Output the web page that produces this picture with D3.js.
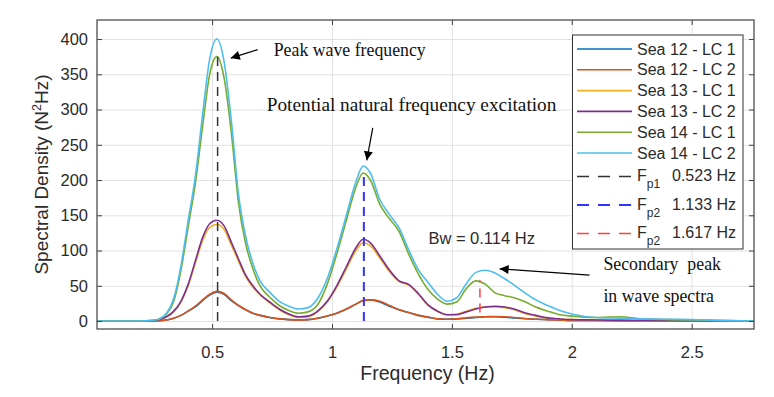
<!DOCTYPE html>
<html><head><meta charset="utf-8">
<script src="https://cdn.jsdelivr.net/npm/d3@7"></script>
<style>
body{margin:0;background:#fff;}
svg{display:block;}
text{font-family:"Liberation Sans",Arial,Helvetica,sans-serif;}
.serif{font-family:"Liberation Serif","Times New Roman",serif;}
</style>
</head><body>
<svg id="c" width="774" height="397"></svg>
<script>
// ---------------- data ----------------
const freq = [0.02,0.10,0.20,0.25,0.28,0.31,0.34,0.37,0.40,0.43,0.46,0.49,0.52,0.55,0.58,0.61,0.64,0.67,0.70,
  0.74,0.78,0.82,0.86,0.90,0.94,0.98,1.02,1.06,1.10,1.13,
  1.16,1.20,1.24,1.28,1.32,1.36,1.40,1.44,1.48,1.52,1.56,1.60,1.64,1.68,1.72,1.76,1.80,
  1.85,1.90,1.95,2.00,2.10,2.20,2.30,2.40,2.50,2.60,2.76];

const sea12lc1 = [0,0,0,0,0.5,1.5,4,8,14,20,29,37,41,38,29,22,16,11,8,
  5,3,2,1.5,2,4,7,11,17,24,29,
  30,27,21,16,12,8,5.5,3,2.5,3,4,5,6,6,5.5,4.5,3.5,
  2.5,2,1.5,1,0.8,0.6,0.5,0.3,0.2,0,0];
const sea12lc2 = [0,0,0,0,0.5,1.5,4,8,14,21,30,38,42,39,30,22,16,11,8,
  5,3,2,1.5,2,4,7,11,17,24,29,
  30,28,22,16,12,8,5.5,3,2.5,3,4.5,5.5,6,6.5,6,5,3.5,
  2.5,2,1.5,1,0.8,0.6,0.5,0.3,0.2,0,0];
const sea13lc1 = [0,0,0,0.5,2,6,13,27,50,82,114,133,137,130,108,85,63,48,37,
  26,16,9,5,6,13,27,48,74,100,111,
  107,89,70,56,51,38,23,14,9,10,14,18,20,20,19,16,11,
  7,4,2.5,2,1.5,1,0.8,0.5,0.3,0,0];
const sea13lc2 = [0,0,0,0.5,2,6,14,28,52,85,118,138,143,135,112,88,65,50,38,
  27,17,10,6,7,14,28,50,77,104,116,
  111,92,72,57,52,39,23,14,9,9,13,17,20,21,20,17,12,
  8,4.5,3,2,1.5,1,0.8,0.5,0.3,0,0];
const sea14lc1 = [0,0,0,1,3,10,28,72,133,195,275,350,375,345,268,168,110,74,50,
  34,22,15,11,13,23,52,95,143,190,210,
  200,165,145,127,95,67,45,31,24,27,46,57,52,40,36,33,28,
  20,14,9,7,5,6,3,2,1.5,1,0];
const sea14lc2 = [0,0,0,1,3,11,32,78,142,205,292,372,400,368,285,180,120,82,57,
  41,28,21,17,19,32,60,102,150,198,220,
  210,172,151,132,101,73,55,38,28,33,53,69,72,68,60,51,41,
  30,22,15,10,5,4,3,2.5,2,1,0];

const seriesNames = ["Sea 12 - LC 1","Sea 12 - LC 2","Sea 13 - LC 1","Sea 13 - LC 2","Sea 14 - LC 1","Sea 14 - LC 2"];
const seriesValues = [sea12lc1, sea12lc2, sea13lc1, sea13lc2, sea14lc1, sea14lc2];
const seriesColors = ["#0072BD","#D95319","#EDB120","#7E2F8E","#77AC30","#4DBEEE"];

// reference (peak) frequencies
const refSub = ["p1","p2","p2"];
const refFreq = [0.523, 1.133, 1.617];
const refLabel = ["0.523 Hz","1.133 Hz","1.617 Hz"];
const refLow = [0, 0, 12];
const refHigh = [375, 210, 58];
const refColors = ["#333333","#3333ff","#ff4040"];

const xTicks = [0.5, 1, 1.5, 2, 2.5];
const xTickLabels = ["0.5","1","1.5","2","2.5"];
const yTicks = [0,50,100,150,200,250,300,350,400];

// annotations (data coordinates)
const annText = [
  {t:"Peak wave frequency", f:0.757, v:376, size:17.8},
  {t:"Potential natural frequency excitation", f:0.728, v:298, size:19.3},
  {t:"Secondary\u00a0\u00a0peak", f:2.132, v:72, size:17.8},
  {t:"in wave spectra", f:2.132, v:27, size:17.8}
];
const annArrows = [
  {f1:0.69, v1:385, f2:0.578, v2:373},
  {f1:1.17, v1:274, f2:1.145, v2:228},
  {f1:2.074, v1:65, f2:1.699, v2:74}
];
const bwText = {t:"Bw = 0.114 Hz", f:1.402, v:109};

// ---------------- chart ----------------
const m = {left:97, right:754, top:20, bottom:329};
const x = d3.scaleLinear().domain([0.02, 2.76]).range([m.left, m.right]);
const y = d3.scaleLinear().domain([-11.3, 427]).range([m.bottom, m.top]);
const svg = d3.select("#c");
const axisCol = "#404040", textCol = "#2b2b2b";

// grid
svg.append("g").attr("transform",`translate(0,${m.bottom})`)
  .call(d3.axisBottom(x).tickValues(xTicks).tickSize(-(m.bottom-m.top)).tickFormat(""))
  .call(g=>{g.select(".domain").remove(); g.selectAll("line").attr("stroke","#e2e2e2");});
svg.append("g").attr("transform",`translate(${m.left},0)`)
  .call(d3.axisLeft(y).tickValues(yTicks).tickSize(-(m.right-m.left)).tickFormat(""))
  .call(g=>{g.select(".domain").remove(); g.selectAll("line").attr("stroke","#e2e2e2");});

// clip
svg.append("clipPath").attr("id","clip").append("rect")
  .attr("x",m.left).attr("y",m.top).attr("width",m.right-m.left).attr("height",m.bottom-m.top);
const plot = svg.append("g").attr("clip-path","url(#clip)");

const line = d3.line().x((d,i)=>x(freq[i])).y(d=>y(d)).curve(d3.curveMonotoneX);
seriesValues.forEach((vals,k)=>{
  plot.append("path").datum(vals).attr("d",line)
    .attr("fill","none").attr("stroke",seriesColors[k]).attr("stroke-width",1.6);
});

// reference dashed lines
refFreq.forEach((f,i)=>{
  plot.append("line").attr("x1",x(f)).attr("x2",x(f)).attr("y1",y(refLow[i])).attr("y2",y(refHigh[i]))
    .attr("stroke",refColors[i]).attr("stroke-width", i===1?2:1.5).attr("stroke-dasharray","9,6");
});

// axes (inward ticks)
const xa = svg.append("g").attr("transform",`translate(0,${m.bottom})`)
  .call(d3.axisBottom(x).tickValues(xTicks).tickSizeInner(-5).tickSizeOuter(0).tickPadding(17)
    .tickFormat((d,i)=>xTickLabels[i]));
const ya = svg.append("g").attr("transform",`translate(${m.left},0)`)
  .call(d3.axisLeft(y).tickValues(yTicks).tickSizeInner(-5).tickSizeOuter(0).tickPadding(9));
[xa,ya].forEach(g=>{
  g.select(".domain").remove();
  g.selectAll("line").attr("stroke",axisCol);
  g.selectAll("text").attr("fill",textCol).style("font-size","16.5px").attr("font-family",null);
});
// top & right ticks
svg.append("g").attr("transform",`translate(0,${m.top})`)
  .call(d3.axisTop(x).tickValues(xTicks).tickSizeInner(-5).tickSizeOuter(0).tickFormat(""))
  .call(g=>{g.select(".domain").remove(); g.selectAll("line").attr("stroke",axisCol);});
svg.append("g").attr("transform",`translate(${m.right},0)`)
  .call(d3.axisRight(y).tickValues(yTicks).tickSizeInner(-5).tickSizeOuter(0).tickFormat(""))
  .call(g=>{g.select(".domain").remove(); g.selectAll("line").attr("stroke",axisCol);});
// box
svg.append("rect").attr("x",m.left).attr("y",m.top).attr("width",m.right-m.left).attr("height",m.bottom-m.top)
  .attr("fill","none").attr("stroke",axisCol).attr("stroke-width",1.2);

// axis labels
svg.append("text").attr("x",(m.left+m.right)/2+2).attr("y",380).attr("text-anchor","middle")
  .attr("fill",textCol).style("font-size","19.5px").text("Frequency (Hz)");
const yl = svg.append("text").attr("transform",`translate(48,${(m.top+m.bottom)/2}) rotate(-90)`)
  .attr("text-anchor","middle").attr("fill",textCol).style("font-size","19px");
yl.append("tspan").text("Spectral Density (N");
yl.append("tspan").attr("dy",-7).style("font-size","12.5px").text("2");
yl.append("tspan").attr("dy",7).text("Hz)");

// legend
const lg = svg.append("g");
const L = {x0:572.5, x1:743, y0:35, y1:249};
lg.append("rect").attr("x",L.x0).attr("y",L.y0).attr("width",L.x1-L.x0).attr("height",L.y1-L.y0)
  .attr("fill","#fff").attr("stroke","#333").attr("stroke-width",1);
const rowY = [];
for(let i=0;i<6;i++) rowY.push(49 + i*20.8);
for(let i=0;i<3;i++) rowY.push(176.5 + i*28.5);
seriesNames.forEach((n,k)=>{
  lg.append("line").attr("x1",577).attr("x2",632).attr("y1",rowY[k]).attr("y2",rowY[k])
    .attr("stroke",seriesColors[k]).attr("stroke-width",1.6);
  lg.append("text").attr("x",637).attr("y",rowY[k]+5.5).attr("fill",textCol).style("font-size","16px").text(n);
});
refFreq.forEach((f,i)=>{
  const ry = rowY[6+i];
  lg.append("line").attr("x1",577).attr("x2",632).attr("y1",ry).attr("y2",ry)
    .attr("stroke",refColors[i]).attr("stroke-width",i===1?2:1.5).attr("stroke-dasharray","12,9");
  const t = lg.append("text").attr("x",637).attr("y",ry+4.5).attr("fill",textCol).style("font-size","16px");
  t.append("tspan").text("F");
  t.append("tspan").attr("dy",7).style("font-size","12px").text(refSub[i]);
  lg.append("text").attr("x",672).attr("y",ry+4.5).attr("fill",textCol).style("font-size","16px").text(refLabel[i]);
});

// annotations
annText.forEach(a=>{
  svg.append("text").attr("class","serif").attr("x",x(a.f)).attr("y",y(a.v)).attr("fill","#111")
    .style("font-size",a.size+"px").style("white-space","pre").text(a.t);
});
svg.append("text").attr("x",x(bwText.f)).attr("y",y(bwText.v)).attr("fill",textCol)
  .style("font-size","16.5px").text(bwText.t);
svg.append("defs").append("marker").attr("id","ah").attr("viewBox","0 0 10 10").attr("refX",10).attr("refY",5)
  .attr("markerWidth",11).attr("markerHeight",9).attr("markerUnits","userSpaceOnUse").attr("orient","auto")
  .append("path").attr("d","M0,0 L10,5 L0,10 Z").attr("fill","#000");
annArrows.forEach(a=>{
  svg.append("line").attr("x1",x(a.f1)).attr("y1",y(a.v1)).attr("x2",x(a.f2)).attr("y2",y(a.v2))
    .attr("stroke","#000").attr("stroke-width",1.2).attr("marker-end","url(#ah)");
});
</script>
</body></html>
